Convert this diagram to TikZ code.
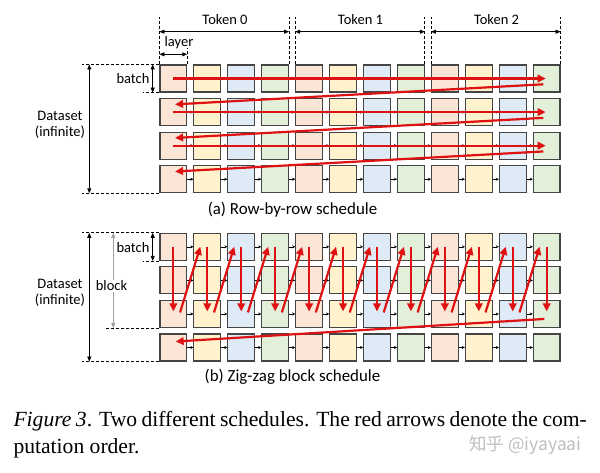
\documentclass[tikz,border=0pt]{standalone}
\usepackage{fontspec}
\setmainfont{Liberation Serif}
\newfontfamily\labfont{Carlito}
\newfontfamily\cjkfont{Noto Sans CJK SC}
\usetikzlibrary{arrows.meta,calc}
\definecolor{c0}{HTML}{FBE5D6}
\definecolor{c1}{HTML}{FFF2CC}
\definecolor{c2}{HTML}{DEEBF7}
\definecolor{c3}{HTML}{E2F0D9}
\definecolor{boxgray}{HTML}{454545}
\definecolor{myred}{RGB}{222,18,18}
\definecolor{blockgray}{HTML}{A0A0A0}
\begin{document}
\begin{tikzpicture}[x=1pt,y=-1pt,
  cell/.style={draw=boxgray, line width=1.1pt, minimum width=26.7pt, minimum height=27pt, inner sep=0pt},
  link/.style={-{Stealth[length=3pt,width=3pt]}, line width=0.6pt, black},
  redarr/.style={draw=myred, line width=2.2pt, -{Triangle[length=8pt,width=7.5pt]}},
  dimarr/.style={line width=0.8pt, {Triangle[length=5pt,width=4pt]}-{Triangle[length=5pt,width=4pt]}},
  dashline/.style={dash pattern=on 3pt off 2pt, line width=0.7pt},
  lbl/.style={font=\labfont\fontsize{14.5}{16}\selectfont, inner sep=0pt, align=center},
  sublbl/.style={font=\labfont\fontsize{16.9}{19}\selectfont, inner sep=0pt},
  capfont/.style={font=\fontsize{21.6}{26.7}\selectfont, inner sep=0pt}]
\useasboundingbox (0,0) rectangle (600,472);
\fill[white] (0,0) rectangle (600,472);

% cells
\foreach \p/\ys in {a/78.5,b/246.8}{
  \foreach \r in {1,...,4}{
    \foreach \c in {1,...,12}{
      \pgfmathtruncatemacro\k{mod(\c-1,4)}
      \pgfmathsetmacro\cx{173.35+33.94*(\c-1)}
      \pgfmathsetmacro\cy{\ys+33.57*(\r-1)}
      \node[cell, fill=c\k] (\p-\r-\c) at (\cx,\cy) {};
    }
  }
}
% small links
\foreach \p in {a,b}{
  \foreach \r in {1,...,4}{
    \foreach \c [evaluate=\c as \n using int(\c+1)] in {1,...,11}{
      \draw[link] (\p-\r-\c.east) -- (\p-\r-\n.west);
    }
  }
}

% coordinates for annotations
\coordinate (tokTop) at (0,17);
\coordinate (tokY) at (0,31.7);
\coordinate (layTop) at (0,48);
\coordinate (layY) at (0,54.3);
\coordinate (dsX) at (89.3,0);
\coordinate (dsL) at (81.7,0);
\coordinate (btX) at (152.7,0);
\coordinate (btL) at (143.3,0);
\coordinate (blX) at (113.3,0);
\coordinate (blL) at (105,0);

% ----- (a) annotations
\draw[dashline] (a-1-1.north west) -- (a-1-1.north west |- tokTop);
\draw[dashline] (a-1-1.north east) -- (a-1-1.north east |- layTop);
\foreach \c in {4,8,12}{\draw[dashline] (a-1-\c.north east) -- (a-1-\c.north east |- tokTop);}
\foreach \c in {5,9}{\draw[dashline] (a-1-\c.north west) -- (a-1-\c.north west |- tokTop);}
\draw[dimarr] (a-1-1.north west |- tokY) -- (a-1-4.north east |- tokY);
\draw[dimarr] (a-1-5.north west |- tokY) -- (a-1-8.north east |- tokY);
\draw[dimarr] (a-1-9.north west |- tokY) -- (a-1-12.north east |- tokY);
\draw[dimarr] (a-1-1.north west |- layY) -- (a-1-1.north east |- layY);
\node[lbl] (tok0) at (225,20) {Token 0};
\node[lbl] (tok1) at (360.5,20) {Token 1};
\node[lbl] (tok2) at (496.5,20) {Token 2};
\node[lbl] (layer) at (179,42.7) {layer};

\draw[dashline] (a-1-1.north west) -- (a-1-1.north west -| dsL);
\draw[dashline] (a-1-1.south west) -- (a-1-1.south west -| btL);
\draw[dashline] (a-4-1.south west) -- (a-4-1.south west -| dsL);
\draw[dimarr] (a-1-1.north west -| dsX) -- (a-4-1.south west -| dsX);
\draw[dimarr] (a-1-1.north west -| btX) -- (a-1-1.south west -| btX);
\node[lbl] (batchA) at (133,79) {batch};
\node[lbl] (dsA) at (60,124.5) {Dataset\\(infinite)};
\node[sublbl] (capA) at (292.5,210) {(a) Row-by-row schedule};

% ----- (b) annotations
\draw[dashline] (b-1-1.north west) -- (b-1-1.north west -| dsL);
\draw[dashline] (b-1-1.south west) -- (b-1-1.south west -| btL);
\draw[dashline] (b-3-1.south west) -- (b-3-1.south west -| blL);
\draw[dashline] (b-4-1.south west) -- (b-4-1.south west -| dsL);
\draw[dimarr] (b-1-1.north west -| dsX) -- (b-4-1.south west -| dsX);
\draw[dimarr] (b-1-1.north west -| btX) -- (b-1-1.south west -| btX);
\draw[dimarr, draw=blockgray, fill=blockgray] (b-1-1.north west -| blX) -- (b-3-1.south west -| blX);
\node[lbl, fill=white, inner sep=1pt] (blockL) at (111.5,285.7) {block};
\node[lbl] (batchB) at (133,247.7) {batch};
\node[lbl] (dsB) at (60,292.5) {Dataset\\(infinite)};
\node[sublbl] (capB) at (292.5,377) {(b) Zig-zag block schedule};

% ----- red arrows (a)
\foreach \r [evaluate=\r as \n using int(\r+1)] in {1,2,3}{
  \draw[redarr] (a-\r-1.center) -- ($(a-\r-12.center)+(-1,0)$);
  \draw[redarr] ($(a-\r-12.center)+(-3.4,5.8)$) -- ($(a-\n-1.center)+(1.7,-7.7)$);
}
% ----- red arrows (b)
\foreach \c in {1,...,12}{
  \draw[redarr] (b-1-\c.center) -- ($(b-3-\c.center)+(0,-2.5)$);
}
\foreach \c [evaluate=\c as \n using int(\c+1)] in {1,...,11}{
  \draw[redarr] ($(b-3-\c.center)+(6.7,-1.5)$) -- ($(b-1-\n.center)+(-7,0)$);
}
\draw[redarr] ($(b-3-12.center)+(-2.4,5)$) -- ($(b-4-1.center)+(2.3,-6)$);

% ----- caption
\node[capfont, anchor=base west] (cap1) at (13.3,426.7)
  {\makebox[573.4pt][s]{\textit{Figure 3}. Two different schedules. The red arrows denote the com-}};
\node[capfont, anchor=base west] (cap2) at (13.3,453.3) {putation order.};
\node[font=\cjkfont\fontsize{17.5}{19}\selectfont, text=black!25, inner sep=0pt] (wm) at (525.5,445) {知乎 @iyayaai};
\end{tikzpicture}
\end{document}
